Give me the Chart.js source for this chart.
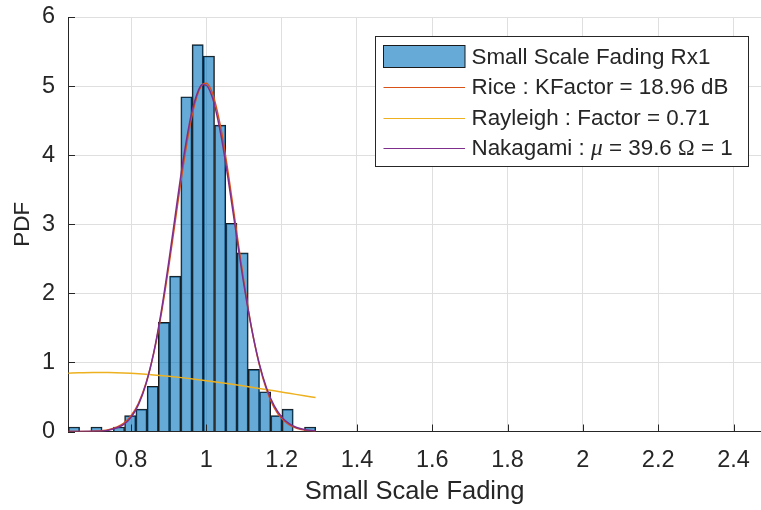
<!DOCTYPE html>
<html>
<head>
<meta charset="utf-8">
<script src="https://cdn.jsdelivr.net/npm/chart.js@4.4.1/dist/chart.umd.min.js"></script>
<style>
  html, body { margin: 0; padding: 0; background: #ffffff; }
  canvas { display: block; }
</style>
</head>
<body>
<canvas id="fading" width="761" height="510"></canvas>
<script>
// Histogram of the small scale fading amplitude (bin centres and PDF heights)
const binCenters = [0.6484, 0.6783, 0.7082, 0.7380, 0.7679, 0.7977, 0.8276, 0.8575,
                    0.8873, 0.9172, 0.9470, 0.9769, 1.0068, 1.0366, 1.0665, 1.0963,
                    1.1262, 1.1561, 1.1859, 1.2158, 1.2456, 1.2755];
const binPdf = [0.065, 0, 0.065, 0, 0.065, 0.23, 0.325, 0.655,
                1.58, 2.25, 4.845, 5.6, 5.435, 4.435, 3.015, 2.585,
                0.90, 0.575, 0.23, 0.325, 0, 0.065];

// Fitted Rice and Nakagami densities
const curveX = [0.6335, 0.66, 0.70, 0.74, 0.78, 0.80, 0.82, 0.84, 0.86, 0.88,
                0.90, 0.92, 0.94, 0.96, 0.98, 0.99, 1.00, 1.01, 1.02, 1.04,
                1.06, 1.08, 1.10, 1.12, 1.14, 1.16, 1.18, 1.20, 1.22, 1.24,
                1.26, 1.29];
const ricePdf = [0.0001, 0.0006, 0.0044, 0.0257, 0.1172, 0.2273, 0.4134, 0.7051, 1.1278, 1.6927,
                 2.3826, 3.1456, 3.8957, 4.5256, 4.9314, 5.0258, 5.0408, 4.9755, 4.8334, 4.3472,
                 3.6680, 2.9031, 2.1553, 1.5012, 0.9809, 0.6011, 0.3456, 0.1864, 0.0943, 0.0448,
                 0.0199, 0.0052];
const nakagamiPdf = [0.0000, 0.0002, 0.0023, 0.0180, 0.0992, 0.2056, 0.3930, 0.6945, 1.1379, 1.7314,
                     2.4508, 3.2340, 3.9846, 4.5900, 4.9530, 5.0212, 5.0110, 4.9222, 4.7610, 4.2520,
                     3.5740, 2.8310, 2.1145, 1.4914, 0.9938, 0.6265, 0.3739, 0.2113, 0.1132, 0.0575,
                     0.0278, 0.0084];

// Fitted Rayleigh density
const rayleighX = [0.6335, 0.66, 0.70, 0.74, 0.78, 0.82, 0.86, 0.90, 0.94, 0.98,
                   1.02, 1.06, 1.10, 1.14, 1.18, 1.22, 1.26, 1.29];
const rayleighPdf = [0.8440, 0.8499, 0.8541, 0.8527, 0.8462, 0.8349, 0.8192, 0.7995, 0.7762, 0.7499,
                     0.7210, 0.6899, 0.6571, 0.6231, 0.5883, 0.5530, 0.5176, 0.4912];

// Axis ticks
const xTicks = [0.8, 1, 1.2, 1.4, 1.6, 1.8, 2, 2.2, 2.4];
const xTickLabels = ['0.8', '1', '1.2', '1.4', '1.6', '1.8', '2', '2.2', '2.4'];
const yTicks = [0, 1, 2, 3, 4, 5, 6];

// Series names
const seriesNames = ['Small Scale Fading Rx1', 'Rice : KFactor = 18.96 dB',
                     'Rayleigh : Factor = 0.71', 'Nakagami : \u03bc = 39.6 \u03a9 = 1'];

const SANS = '"Liberation Sans", Arial, Helvetica, sans-serif';
const SERIF = '"Liberation Serif", "DejaVu Serif", serif';
const INK = 'rgb(38,38,38)';
const BAR_FILL = 'rgba(0,114,189,0.6)';
const BAR_EDGE = 'rgb(26,26,26)';
const RICE = 'rgb(217,83,25)';
const RAYLEIGH = 'rgb(237,177,32)';
const NAKAGAMI = 'rgb(126,47,142)';
const LEGEND_FONT = 22.4;

const toPoints = (xs, ys) => xs.map((x, i) => ({ x: x, y: ys[i] }));

// Inward tick marks, as on a MATLAB axes
const innerTicks = {
  id: 'innerTicks',
  afterDatasetsDraw(chart) {
    const { ctx, chartArea, scales } = chart;
    const len = 7;
    ctx.save();
    ctx.strokeStyle = INK;
    ctx.lineWidth = 1;
    ctx.beginPath();
    xTicks.forEach(v => {
      const px = Math.round(scales.x.getPixelForValue(v)) + 0.5;
      ctx.moveTo(px, chartArea.bottom);
      ctx.lineTo(px, chartArea.bottom - len);
    });
    yTicks.forEach(v => {
      const py = Math.round(scales.y.getPixelForValue(v)) + 0.5;
      ctx.moveTo(chartArea.left, py);
      ctx.lineTo(chartArea.left + len, py);
    });
    ctx.stroke();
    ctx.restore();
  }
};

// Boxed legend in the upper right of the axes
const boxLegend = {
  id: 'boxLegend',
  afterDraw(chart) {
    const { ctx } = chart;
    const box = { x: 375.5, y: 36.5, w: 373, h: 130 };
    const rowY = [56.5, 87, 117.5, 148];
    const swX0 = 383.5, swX1 = 465, textX = 471.5;
    ctx.save();
    ctx.fillStyle = '#ffffff';
    ctx.fillRect(box.x, box.y, box.w, box.h);
    ctx.strokeStyle = INK;
    ctx.lineWidth = 1;
    ctx.strokeRect(box.x, box.y, box.w, box.h);

    chart.data.datasets.forEach((ds) => {
      const y = rowY[ds.legendRow];
      if (ds.type === 'bar') {
        ctx.fillStyle = ds.backgroundColor;
        ctx.fillRect(swX0, y - 11, swX1 - swX0, 22);
        ctx.strokeStyle = BAR_EDGE;
        ctx.strokeRect(swX0, y - 11, swX1 - swX0, 22);
      } else {
        ctx.strokeStyle = ds.borderColor;
        ctx.lineWidth = 1;
        ctx.beginPath();
        ctx.moveTo(swX0, Math.round(y) + 0.5);
        ctx.lineTo(swX1, Math.round(y) + 0.5);
        ctx.stroke();
      }
      // label text; Greek letters are set in a serif face, mu in italics
      ctx.fillStyle = INK;
      ctx.textBaseline = 'middle';
      ctx.textAlign = 'left';
      let x = textX;
      for (const ch of ds.label) {
        if (ch === '\u03bc') ctx.font = 'italic ' + (LEGEND_FONT + 1) + 'px ' + SERIF;
        else if (ch === '\u03a9') ctx.font = LEGEND_FONT + 'px ' + SERIF;
        else ctx.font = LEGEND_FONT + 'px ' + SANS;
        ctx.fillText(ch, x, y + 1);
        x += ctx.measureText(ch).width;
      }
    });
    ctx.restore();
  }
};

new Chart(document.getElementById('fading'), {
  type: 'bar',
  data: {
    datasets: [
      {
        type: 'line', label: seriesNames[3], legendRow: 3,
        data: toPoints(curveX, nakagamiPdf),
        borderColor: NAKAGAMI, borderWidth: 1.5, pointRadius: 0,
        cubicInterpolationMode: 'monotone', fill: false, order: 1
      },
      {
        type: 'line', label: seriesNames[2], legendRow: 2,
        data: toPoints(rayleighX, rayleighPdf),
        borderColor: RAYLEIGH, borderWidth: 1.5, pointRadius: 0,
        cubicInterpolationMode: 'monotone', fill: false, order: 2
      },
      {
        type: 'line', label: seriesNames[1], legendRow: 1,
        data: toPoints(curveX, ricePdf),
        borderColor: RICE, borderWidth: 1.5, pointRadius: 0,
        cubicInterpolationMode: 'monotone', fill: false, order: 3
      },
      {
        type: 'bar', label: seriesNames[0], legendRow: 0,
        data: toPoints(binCenters, binPdf),
        backgroundColor: BAR_FILL, borderColor: BAR_EDGE, borderWidth: 1,
        barPercentage: 1, categoryPercentage: 1, order: 4
      }
    ]
  },
  options: {
    responsive: false,
    devicePixelRatio: 1,
    animation: false,
    layout: { padding: { top: 17, right: 0, bottom: 0, left: 0 } },
    plugins: { legend: { display: false }, tooltip: { enabled: false } },
    scales: {
      x: {
        type: 'linear',
        offset: false,
        min: 0.6325,
        max: 2.473,
        afterFit(scale) {
          scale.height = 78.5;
          scale.paddingLeft = 0;
          scale.paddingRight = 0;
        },
        afterBuildTicks(scale) { scale.ticks = xTicks.map(v => ({ value: v })); },
        grid: { color: 'rgb(223,223,223)', lineWidth: 1, drawTicks: false, offset: false },
        border: { display: true, color: INK, width: 1 },
        ticks: {
          padding: 15,
          color: INK,
          font: { family: SANS, size: 23.5 },
          maxRotation: 0,
          callback: (v) => xTickLabels[xTicks.indexOf(v)] ?? ''
        },
        title: {
          display: true, text: 'Small Scale Fading', color: INK,
          font: { family: SANS, size: 25.5 }, padding: { top: 0, bottom: 3 }
        }
      },
      y: {
        type: 'linear',
        min: 0,
        max: 6,
        afterFit(scale) {
          scale.width = 68;
          scale.paddingTop = 0;
          scale.paddingBottom = 0;
        },
        afterBuildTicks(scale) { scale.ticks = yTicks.map(v => ({ value: v })); },
        grid: { color: 'rgb(223,223,223)', lineWidth: 1, drawTicks: false },
        border: { display: true, color: INK, width: 1 },
        ticks: {
          padding: 13,
          color: INK,
          font: { family: SANS, size: 23.5 },
          callback: (v) => String(v)
        },
        title: {
          display: true, text: 'PDF', color: INK,
          font: { family: SANS, size: 22.5 }, padding: { top: 9, bottom: 0 }
        }
      }
    }
  },
  plugins: [innerTicks, boxLegend]
});
</script>
</body>
</html>
